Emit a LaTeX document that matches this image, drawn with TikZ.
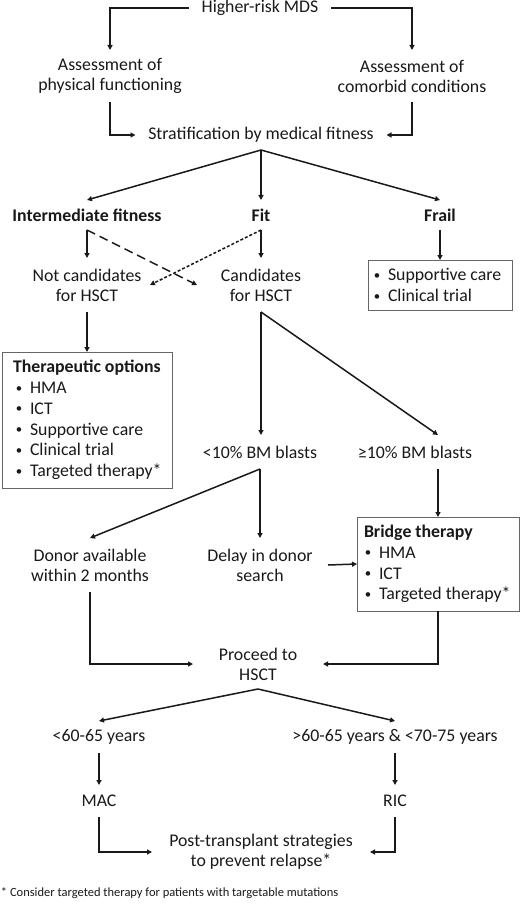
\documentclass[tikz,border=0pt]{standalone}
\usepackage{fontspec}
\usepackage{graphicx}
\setmainfont{Carlito}
\usetikzlibrary{arrows.meta}
\newcommand{\bul}[2]{\hspace*{#1}\makebox[15pt][l]{\hspace{0.8pt}\raisebox{1.4pt}{\scalebox{0.72}{\textbullet}}}#2}
\begin{document}
\begin{tikzpicture}[x=1pt,y=-1pt,
  every node/.style={font=\fontsize{17.8}{20}\selectfont, text=black!90, inner sep=0pt, outer sep=0pt, align=center},
  arr/.style={line width=1.5pt, draw=black!90, -{Triangle[length=5pt,width=5pt]}},
  longdash/.style={dash pattern=on 9pt off 5pt},
  shortdash/.style={dash pattern=on 3pt off 2pt},
  box/.style={draw=black!60, line width=1pt, align=flush left, inner sep=0pt, font=\fontsize{17.8}{20.7}\selectfont},
  ]
\useasboundingbox (0,0) rectangle (520,909);
\node[minimum width=142pt, minimum height=16pt] (hr) at (260,8) {Higher-risk MDS};
\node[minimum height=52pt] (apf) at (110,76) {Assessment of\\physical functioning};
\node[minimum height=52pt] (acc) at (412,76) {Assessment of\\comorbid conditions};
\node[minimum width=251pt, minimum height=30pt] (strat) at (261,135) {Stratification by medical fitness};
\node[minimum height=30pt] (int) at (87,215) {\bfseries Intermediate fitness};
\node[minimum height=30pt] (fit) at (261,215) {\bfseries Fit};
\node[minimum height=30pt] (frail) at (440,215) {\bfseries Frail};
\node[minimum width=126pt, minimum height=54pt] (nc) at (87,285) {Not candidates\\for HSCT};
\node[minimum width=128pt, minimum height=54pt] (cand) at (261,285) {Candidates\\for HSCT};
\node[box, text width=144pt, minimum height=50pt] (fb) at (440,285)
  {\bul{5pt}{Supportive care}\\\bul{5pt}{Clinical trial}};
\node[box, text width=170pt, minimum height=136pt] (tb) at (87,420)
  {\hspace*{11pt}\textbf{Therapeutic options}\\\bul{13pt}{HMA}\\\bul{13pt}{ICT}\\\bul{13pt}{Supportive care}\\\bul{13pt}{Clinical trial}\\\bul{13pt}{Targeted therapy*}};
\node[minimum height=34pt] (lt) at (260,452) {<10\% BM blasts};
\node[minimum height=34pt] (ge) at (415,452) {≥10\% BM blasts};
\node[box, text width=162pt, minimum height=94pt] (bt) at (438,564)
  {\hspace*{7pt}\textbf{Bridge therapy}\\\bul{7pt}{HMA}\\\bul{7pt}{ICT}\\\bul{7pt}{Targeted therapy*}};
\node[minimum height=54pt] (don) at (90,565) {Donor available\\within 2 months};
\node[minimum width=136pt, minimum height=54pt] (del) at (260,565) {Delay in donor\\search};
\node[minimum width=130pt, minimum height=50pt] (pro) at (258,664) {Proceed to\\HSCT};
\node[minimum height=32pt] (yg) at (99,737) {<60-65 years};
\node[minimum height=32pt] (od) at (395,737) {>60-65 years \& <70-75 years};
\node[minimum height=32pt] (mac) at (99,801) {MAC};
\node[minimum height=32pt] (ric) at (395,801) {RIC};
\node[minimum width=218pt, minimum height=50pt] (post) at (261,852) {Post-transplant strategies\\to prevent relapse*};
\node[anchor=west, font=\fontsize{12.5}{14}\selectfont] (fn) at (1,893) {* Consider targeted therapy for patients with targetable mutations};

\draw[arr] (hr.west) -| (apf.north);
\draw[arr] (hr.east) -| (acc.north);
\draw[arr] (apf.south) |- (strat.west);
\draw[arr] (acc.south) |- (strat.east);
\draw[arr] (strat.south) -- (int.north);
\draw[arr] (strat.south) -- (fit.north);
\draw[arr] (strat.south) -- (frail.north);
\draw[arr] (int.south) -- (nc.north);
\draw[arr, longdash] (int.south) -- (cand.west);
\draw[arr] (fit.south) -- (cand.north);
\draw[arr, shortdash] (fit.south) -- (nc.east);
\draw[arr] (frail.south) -- (fb.north);
\draw[arr] (nc.south) -- (tb.north);
\draw[arr] (cand.south) -- (cand.south |- lt.north);
\draw[arr] (cand.south) -- (bt.north |- ge.north);
\draw[arr] (bt.north |- ge.south) -- (bt.north);
\draw[arr] (lt.south) -- (don.north);
\draw[arr] (lt.south) -- (del.north);
\draw[arr] (del.east) -- (bt.west);
\draw[arr] (don.south) |- (pro.west);
\draw[arr] (bt.south) |- (pro.east);
\draw[arr] (pro.south) -- (yg.north);
\draw[arr] (pro.south) -- (od.north);
\draw[arr] (yg.south) -- (mac.north);
\draw[arr] (od.south) -- (ric.north);
\draw[arr] (mac.south) |- (post.west);
\draw[arr] (ric.south) |- (post.east);
\end{tikzpicture}
\end{document}
